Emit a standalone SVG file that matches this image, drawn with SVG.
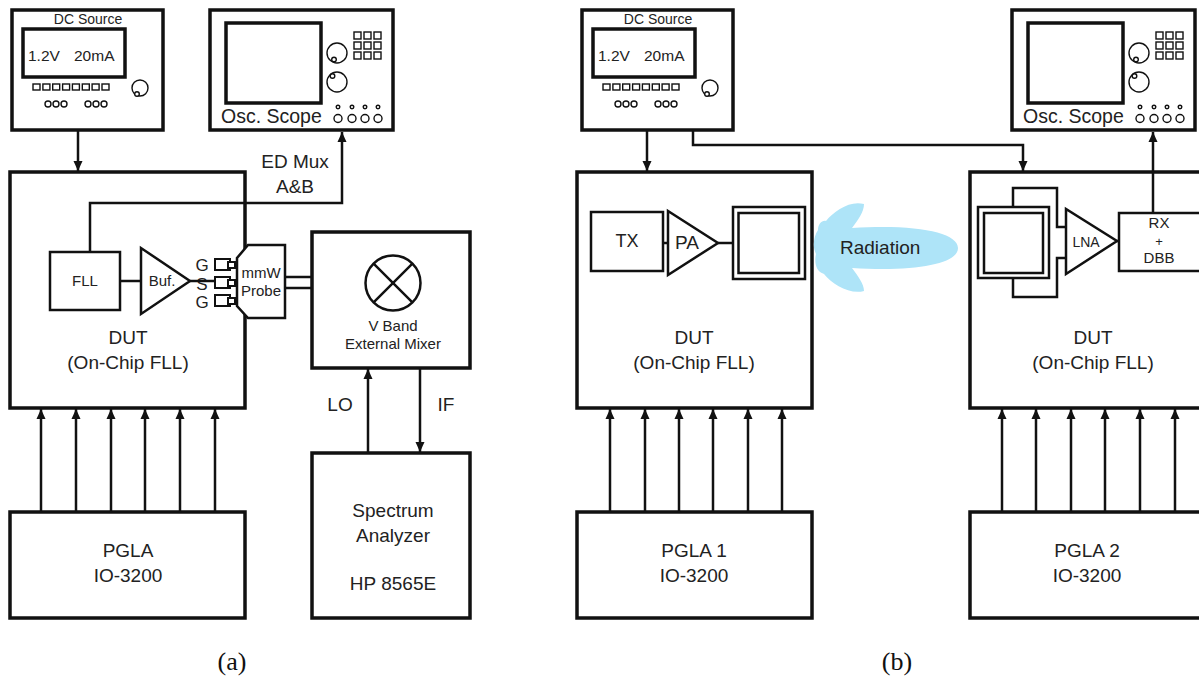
<svg xmlns="http://www.w3.org/2000/svg" width="1199" height="700" viewBox="0 0 1199 700">
  <defs>
    <style>
      .box { fill: #fff; stroke: #111; stroke-width: 3.5; }
      .blk { fill: #fff; stroke: #111; stroke-width: 2.5; }
      .thin { fill: #fff; stroke: #111; stroke-width: 1.4; }
      .wire { fill: none; stroke: #111; stroke-width: 2.5; }
      .arr { fill: none; stroke: #111; stroke-width: 2.5; marker-end: url(#head); }
      text { font-family: "Liberation Sans", Arial, sans-serif; fill: #222; }
      .lbl { font-size: 19px; text-anchor: middle; }
      .sm { font-size: 15px; text-anchor: middle; }
      .cap { font-family: "Liberation Serif", "Times New Roman", serif; font-size: 26px; text-anchor: middle; fill: #111; }
    </style>
    <marker id="head" viewBox="0 0 10 10" refX="10" refY="5" markerWidth="10" markerHeight="10" markerUnits="userSpaceOnUse" orient="auto">
      <path d="M0,0.5 L10,5 L0,9.5 z" fill="#111"/>
    </marker>
  </defs>

  <!-- ===== (a) ===== -->
  <g id="dc-source-a">
    <rect class="box" x="12" y="10" width="151" height="120"/>
    <text x="88" y="24" style="font-size:14px;text-anchor:middle">DC Source</text>
    <rect class="box" x="23" y="29" width="102" height="48"/>
    <text x="28" y="61" style="font-size:15.5px">1.2V</text>
    <text x="74" y="61" style="font-size:15.5px">20mA</text>
    <g class="thin">
      <rect x="33" y="84" width="7" height="6"/><rect x="42.9" y="84" width="7" height="6"/>
      <rect x="52.7" y="84" width="7" height="6"/><rect x="62.6" y="84" width="7" height="6"/>
      <rect x="72.4" y="84" width="7" height="6"/><rect x="82.3" y="84" width="7" height="6"/>
      <rect x="92.1" y="84" width="7" height="6"/><rect x="102" y="84" width="7" height="6"/>
      <circle cx="48" cy="104" r="3"/><circle cx="56" cy="104" r="3"/><circle cx="64" cy="104" r="3"/>
      <circle cx="88" cy="104" r="3"/><circle cx="96" cy="104" r="3"/><circle cx="104" cy="104" r="3"/>
      <circle cx="140" cy="88" r="8"/><circle cx="137" cy="94" r="2.3"/>
    </g>
  </g>

  <g id="osc-scope-a">
    <rect class="box" x="210" y="10" width="183" height="120"/>
    <rect class="box" x="226" y="23" width="95" height="80"/>
    <g class="thin">
      <circle cx="337" cy="53" r="10"/><circle cx="334" cy="59.5" r="2.3"/>
      <circle cx="337" cy="82" r="10"/><circle cx="332.5" cy="76" r="2.3"/>
      <rect x="354" y="32" width="7" height="7"/><rect x="364" y="32" width="7" height="7"/><rect x="374" y="32" width="7" height="7"/>
      <rect x="354" y="42" width="7" height="7"/><rect x="364" y="42" width="7" height="7"/><rect x="374" y="42" width="7" height="7"/>
      <rect x="354" y="52" width="7" height="7"/><rect x="364" y="52" width="7" height="7"/><rect x="374" y="52" width="7" height="7"/>
      <circle cx="338" cy="107" r="1.8"/><circle cx="352" cy="107" r="1.8"/><circle cx="365" cy="107" r="1.8"/><circle cx="378" cy="107" r="1.8"/>
      <circle cx="338" cy="118.5" r="4"/><circle cx="352" cy="118.5" r="4"/><circle cx="365" cy="118.5" r="4"/><circle cx="378" cy="118.5" r="4"/>
    </g>
    <text x="221" y="123" style="font-size:19.5px">Osc. Scope</text>
  </g>

  <g id="dut-a">
    <rect class="box" x="10" y="172" width="235" height="236"/>
    <text class="lbl" x="128" y="344">DUT</text>
    <text class="lbl" x="128" y="369">(On-Chip FLL)</text>
  </g>

  <g id="fll">
    <rect class="blk" x="50" y="252" width="70" height="58"/>
    <text class="sm" x="85" y="286">FLL</text>
  </g>

  <g id="buffer">
    <polygon class="blk" points="141,248 141,314 190,281"/>
    <text class="sm" x="162" y="286">Buf.</text>
  </g>

  <g id="gsg-pads">
    <text x="202" y="271" style="font-size:17px;text-anchor:middle">G</text>
    <text x="202" y="290" style="font-size:17px;text-anchor:middle">S</text>
    <text x="202" y="308" style="font-size:17px;text-anchor:middle">G</text>
    <g fill="#fff" stroke="#111" stroke-width="2">
      <rect x="215" y="259" width="15" height="11"/><rect x="228" y="262" width="7" height="6"/>
      <rect x="215" y="277" width="15" height="11"/><rect x="228" y="280" width="7" height="6"/>
      <rect x="215" y="295" width="15" height="11"/><rect x="228" y="298" width="7" height="6"/>
    </g>
  </g>

  <g id="mmw-probe">
    <polygon class="blk" points="248,245 285,245 285,318 248,318 237,306 237,258"/>
    <text class="sm" x="261" y="278">mmW</text>
    <text class="sm" x="261" y="296">Probe</text>
  </g>

  <g id="mixer">
    <rect class="box" x="312" y="232" width="158" height="136"/>
    <circle cx="393" cy="283" r="27.5" fill="#fff" stroke="#111" stroke-width="2.5"/>
    <path class="wire" d="M373.6,263.6 L412.4,302.4 M412.4,263.6 L373.6,302.4"/>
    <text class="sm" x="393" y="331">V Band</text>
    <text class="sm" x="393" y="349">External Mixer</text>
  </g>

  <g id="spectrum-analyzer">
    <rect class="box" x="312" y="453" width="158" height="165"/>
    <text class="lbl" x="393" y="517">Spectrum</text>
    <text class="lbl" x="393" y="542">Analyzer</text>
    <text class="lbl" x="393" y="590">HP 8565E</text>
  </g>

  <g id="pgla-a">
    <rect class="box" x="10" y="512" width="235" height="106"/>
    <text class="lbl" x="128" y="557">PGLA</text>
    <text class="lbl" x="128" y="582">IO-3200</text>
  </g>

  <!-- ===== (b) ===== -->
  <g id="dc-source-b" transform="translate(570,0)">
    <rect class="box" x="12" y="10" width="151" height="120"/>
    <text x="88" y="24" style="font-size:14px;text-anchor:middle">DC Source</text>
    <rect class="box" x="23" y="29" width="102" height="48"/>
    <text x="28" y="61" style="font-size:15.5px">1.2V</text>
    <text x="74" y="61" style="font-size:15.5px">20mA</text>
    <g class="thin">
      <rect x="33" y="84" width="7" height="6"/><rect x="42.9" y="84" width="7" height="6"/>
      <rect x="52.7" y="84" width="7" height="6"/><rect x="62.6" y="84" width="7" height="6"/>
      <rect x="72.4" y="84" width="7" height="6"/><rect x="82.3" y="84" width="7" height="6"/>
      <rect x="92.1" y="84" width="7" height="6"/><rect x="102" y="84" width="7" height="6"/>
      <circle cx="48" cy="104" r="3"/><circle cx="56" cy="104" r="3"/><circle cx="64" cy="104" r="3"/>
      <circle cx="88" cy="104" r="3"/><circle cx="96" cy="104" r="3"/><circle cx="104" cy="104" r="3"/>
      <circle cx="140" cy="88" r="8"/><circle cx="137" cy="94" r="2.3"/>
    </g>
  </g>

  <g id="osc-scope-b" transform="translate(802,0)">
    <rect class="box" x="210" y="10" width="183" height="120"/>
    <rect class="box" x="226" y="23" width="95" height="80"/>
    <g class="thin">
      <circle cx="337" cy="53" r="10"/><circle cx="334" cy="59.5" r="2.3"/>
      <circle cx="337" cy="82" r="10"/><circle cx="332.5" cy="76" r="2.3"/>
      <rect x="354" y="32" width="7" height="7"/><rect x="364" y="32" width="7" height="7"/><rect x="374" y="32" width="7" height="7"/>
      <rect x="354" y="42" width="7" height="7"/><rect x="364" y="42" width="7" height="7"/><rect x="374" y="42" width="7" height="7"/>
      <rect x="354" y="52" width="7" height="7"/><rect x="364" y="52" width="7" height="7"/><rect x="374" y="52" width="7" height="7"/>
      <circle cx="338" cy="107" r="1.8"/><circle cx="352" cy="107" r="1.8"/><circle cx="365" cy="107" r="1.8"/><circle cx="378" cy="107" r="1.8"/>
      <circle cx="338" cy="118.5" r="4"/><circle cx="352" cy="118.5" r="4"/><circle cx="365" cy="118.5" r="4"/><circle cx="378" cy="118.5" r="4"/>
    </g>
    <text x="221" y="123" style="font-size:19.5px">Osc. Scope</text>
  </g>

  <g id="dut-tx">
    <rect class="box" x="577" y="172" width="235" height="236"/>
    <text class="lbl" x="694" y="344">DUT</text>
    <text class="lbl" x="694" y="369">(On-Chip FLL)</text>
  </g>

  <g id="tx">
    <rect class="blk" x="591" y="212" width="72" height="59"/>
    <text x="627" y="247" style="font-size:18px;text-anchor:middle">TX</text>
  </g>

  <g id="pa">
    <polygon class="blk" points="668,211 668,275 718,243"/>
    <text class="lbl" x="687" y="249">PA</text>
  </g>

  <g id="tx-antenna">
    <rect class="blk" x="733" y="207" width="72" height="72"/>
    <rect class="blk" x="738.5" y="213" width="60.5" height="60"/>
  </g>

  <g id="radiation">
    <!-- left-pointing beam: ellipse body with two swept-back lobes -->
    <path fill="#aee4f8" d="M958,248 C958,264 915,272 852,268 C858,276 864,284 864,291 C850,295 832,284 824,274 C816,272 814,262 816,254 C812,246 814,236 818,230 C818,224 822,220 826,221 C834,211 850,200 864,204 C864,212 858,220 852,228 C915,224 958,232 958,248 Z"/>
    <text x="840" y="254" style="font-size:19px">Radiation</text>
  </g>

  <g id="dut-rx">
    <rect class="box" x="970" y="172" width="250" height="236"/>
    <text class="lbl" x="1093" y="344">DUT</text>
    <text class="lbl" x="1093" y="369">(On-Chip FLL)</text>
  </g>

  <g id="rx-antenna">
    <path class="wire" d="M1013,207 V188 H1057 V227 H1067 M1013,278 V297 H1057 V258 H1067"/>
    <rect class="blk" x="978" y="207" width="71" height="71"/>
    <rect class="blk" x="984" y="213" width="59" height="60"/>
  </g>

  <g id="lna">
    <polygon class="blk" points="1066,209 1066,274 1117,241"/>
    <text x="1086" y="247" style="font-size:14px;text-anchor:middle">LNA</text>
  </g>

  <g id="rx-dbb">
    <rect class="blk" x="1119" y="213" width="90" height="58"/>
    <text x="1159" y="228" style="font-size:15px;text-anchor:middle">RX</text>
    <text x="1159" y="246" style="font-size:13px;text-anchor:middle">+</text>
    <text x="1159" y="263" style="font-size:15px;text-anchor:middle">DBB</text>
  </g>

  <g id="pgla-1">
    <rect class="box" x="577" y="512" width="235" height="106"/>
    <text class="lbl" x="694" y="557">PGLA 1</text>
    <text class="lbl" x="694" y="582">IO-3200</text>
  </g>

  <g id="pgla-2">
    <rect class="box" x="970" y="512" width="250" height="106"/>
    <text class="lbl" x="1087" y="557">PGLA 2</text>
    <text class="lbl" x="1087" y="582">IO-3200</text>
  </g>

  <!-- ===== connectors ===== -->
  <g id="connectors">
    <!-- (a) -->
    <path class="arr" d="M78,131 V171"/>
    <path class="arr" d="M90,252 V203 H342 V132"/>
    <path class="wire" d="M120,281 H141"/>
    <path class="wire" d="M190,281 H215"/>
    <path class="wire" d="M285,277 H312 M285,288 H312"/>
    <path class="arr" d="M368,453 V369"/>
    <path class="arr" d="M420,368 V452"/>
    <path class="arr" d="M41,512 V409"/>
    <path class="arr" d="M76,512 V409"/>
    <path class="arr" d="M111,512 V409"/>
    <path class="arr" d="M145,512 V409"/>
    <path class="arr" d="M180,512 V409"/>
    <path class="arr" d="M215,512 V409"/>
    <!-- (b) -->
    <path class="arr" d="M647,131 V171"/>
    <path class="arr" d="M693,131 V145 H1023 V171"/>
    <path class="wire" d="M663,243 H668"/>
    <path class="wire" d="M718,243 H733"/>
    <path class="wire" d="M1117,241 H1119"/>
    <path class="arr" d="M1153,212 V132"/>
    <path class="arr" d="M610,512 V409"/>
    <path class="arr" d="M645,512 V409"/>
    <path class="arr" d="M679,512 V409"/>
    <path class="arr" d="M713,512 V409"/>
    <path class="arr" d="M748,512 V409"/>
    <path class="arr" d="M782,512 V409"/>
    <path class="arr" d="M1002,512 V409"/>
    <path class="arr" d="M1036,512 V409"/>
    <path class="arr" d="M1071,512 V409"/>
    <path class="arr" d="M1105,512 V409"/>
    <path class="arr" d="M1140,512 V409"/>
    <path class="arr" d="M1175,512 V409"/>
  </g>

  <g id="labels">
    <text class="lbl" x="295" y="168">ED Mux</text>
    <text class="lbl" x="295" y="193">A&amp;B</text>
    <text class="lbl" x="340" y="411">LO</text>
    <text class="lbl" x="446" y="411">IF</text>
    <text class="cap" x="232" y="670">(a)</text>
    <text class="cap" x="897" y="670">(b)</text>
  </g>
</svg>
